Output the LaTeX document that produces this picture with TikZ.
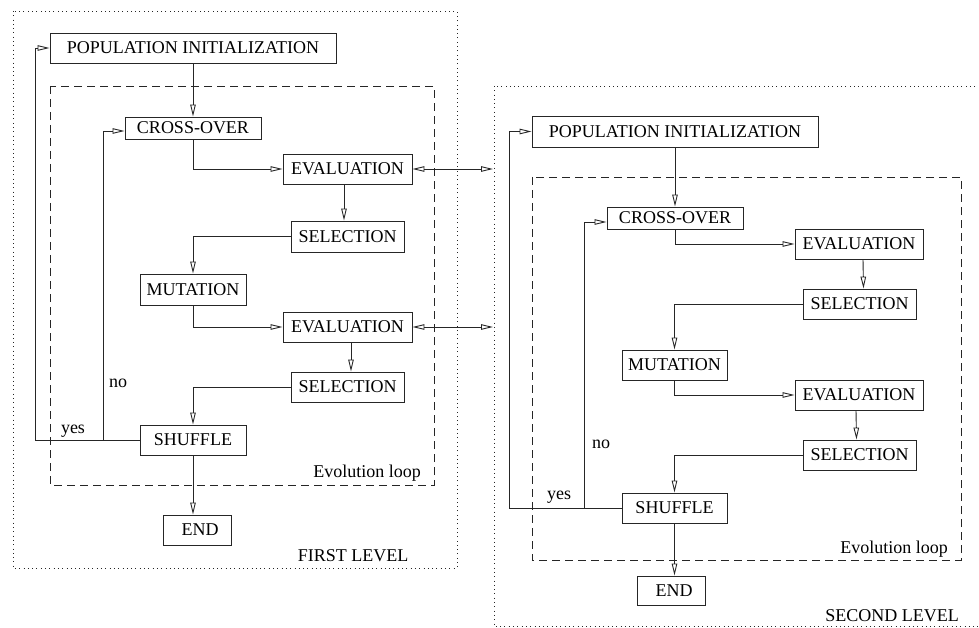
\documentclass[tikz,border=0pt]{standalone}
\usepackage{fontspec}
\setmainfont{Liberation Serif}
\usetikzlibrary{arrows.meta}
\tikzset{
  box/.style={draw=black!85, line width=0.9pt, inner sep=0pt, font=\fontsize{18}{20}\selectfont},
  arr/.style={draw=black!85, line width=0.9pt, -{Triangle[open,length=12pt,width=5.5pt]}},
  darr/.style={draw=black!85, line width=0.9pt, {Triangle[open,length=12pt,width=5.5pt]}-{Triangle[open,length=12pt,width=5.5pt]}},
  conn/.style={draw=black!85, line width=0.9pt},
  lbl/.style={inner sep=0pt, anchor=base, font=\fontsize{18}{20}\selectfont},
  loopbox/.style={draw=black!85, line width=0.8pt, dash pattern=on 8pt off 5pt},
  levelbox/.style={draw=black!85, line width=0.8pt, dash pattern=on 0.8pt off 3.5pt},
}
\begin{document}
\begin{tikzpicture}[x=1pt,y=-1pt]
\useasboundingbox (0,0) rectangle (979,628);
\clip (0,0) rectangle (979,628);

% ---------- frames ----------
\draw[levelbox] (13,11) rectangle (457,568);
\draw[loopbox] (50,86) rectangle (434,485);
\draw[levelbox] (494,86) rectangle (990,626);
\draw[loopbox] (532,177) rectangle (961,560);

% ---------- first level ----------
\node[box, minimum width=286pt, minimum height=30pt] (pop1) at (193,48) {POPULATION INITIALIZATION};
\node[box, minimum width=136pt, minimum height=22pt] (cross1) at (193,128) {CROSS-OVER};
\node[box, minimum width=129pt, minimum height=30pt] (eval1a) at (347.5,169) {EVALUATION};
\node[box, minimum width=113pt, minimum height=31pt] (sel1a) at (347.5,236.5) {SELECTION};
\node[box, minimum width=106pt, minimum height=31pt] (mut1) at (193,289.5) {MUTATION};
\node[box, minimum width=129pt, minimum height=30pt] (eval1b) at (347.5,327) {EVALUATION};
\node[box, minimum width=113pt, minimum height=30pt] (sel1b) at (347.5,387) {SELECTION};
\node[box, minimum width=106pt, minimum height=30pt] (shuf1) at (193,440) {SHUFFLE};
\node[box, minimum width=68pt, minimum height=30pt] (end1) at (197,530) {\hspace{6pt}END};

\coordinate (yes1) at (35,440);
\coordinate (no1) at (103,440);

\draw[arr] (pop1) -- (cross1);
\draw[arr] (cross1.south) |- (eval1a.west);
\draw[arr] ([xshift=-3.5pt]eval1a.south) -- ([xshift=-3.5pt]sel1a.north);
\draw[arr] (sel1a.west) -| (mut1.north);
\draw[arr] (mut1.south) |- (eval1b.west);
\draw[arr] ([xshift=3.5pt]eval1b.south) -- ([xshift=3.5pt]sel1b.north);
\draw[arr] (sel1b.west) -| (shuf1.north);
\draw[arr] (shuf1.south) -- (shuf1.south |- end1.north);
\draw[conn] (shuf1.west) -- (yes1);
\draw[arr] (yes1) |- (pop1.west);
\draw[arr] (no1) |- ([yshift=-3pt]cross1.west);

\node[lbl] (yeslbl1) at (73,433) {yes};
\node[lbl] (nolbl1) at (118,387) {no};
\node[lbl] (loop1) at (367,477) {Evolution loop};
\node[lbl] (lev1) at (353,561) {FIRST LEVEL};

% ---------- second level ----------
\node[box, minimum width=286pt, minimum height=31pt] (pop2) at (675,131.5) {POPULATION INITIALIZATION};
\node[box, minimum width=136pt, minimum height=22pt] (cross2) at (675,218) {CROSS-OVER};
\node[box, minimum width=128pt, minimum height=30pt] (eval2a) at (859,244) {EVALUATION};
\node[box, minimum width=113pt, minimum height=30pt] (sel2a) at (859.5,304) {SELECTION};
\node[box, minimum width=105pt, minimum height=30pt] (mut2) at (674.5,365) {MUTATION};
\node[box, minimum width=128pt, minimum height=30pt] (eval2b) at (859,395) {EVALUATION};
\node[box, minimum width=113pt, minimum height=30pt] (sel2b) at (859.5,455) {SELECTION};
\node[box, minimum width=105pt, minimum height=30pt] (shuf2) at (674.5,508) {SHUFFLE};
\node[box, minimum width=68pt, minimum height=29pt] (end2) at (671,590.5) {\hspace{6pt}END};

\coordinate (yes2) at (509,508);
\coordinate (no2) at (584,508);

\draw[arr] (pop2) -- (cross2);
\draw[arr] (cross2.south) |- (eval2a.west);
\draw[arr] ([xshift=4pt]eval2a.south) -- ([xshift=4pt]sel2a.north);
\draw[arr] (sel2a.west) -| (mut2.north);
\draw[arr] (mut2.south) |- (eval2b.west);
\draw[arr] ([xshift=-3pt]eval2b.south) -- ([xshift=-3pt]sel2b.north);
\draw[arr] (sel2b.west) -| (shuf2.north);
\draw[arr] (shuf2.south) -- (shuf2.south |- end2.north);
\draw[conn] (shuf2.west) -- (yes2);
\draw[arr] (yes2) |- (pop2.west);
\draw[arr] (no2) |- ([yshift=-4pt]cross2.west);

\node[lbl] (yeslbl2) at (559,499) {yes};
\node[lbl] (nolbl2) at (601,448) {no};
\node[lbl] (loop2) at (894,553) {Evolution loop};
\node[lbl] (lev2) at (892,621) {SECOND LEVEL};

% ---------- links between levels ----------
\coordinate (link1) at (493,169);
\coordinate (link2) at (493,327);
\draw[darr] (eval1a.east) -- (link1);
\draw[darr] (eval1b.east) -- (link2);
\end{tikzpicture}
\end{document}
